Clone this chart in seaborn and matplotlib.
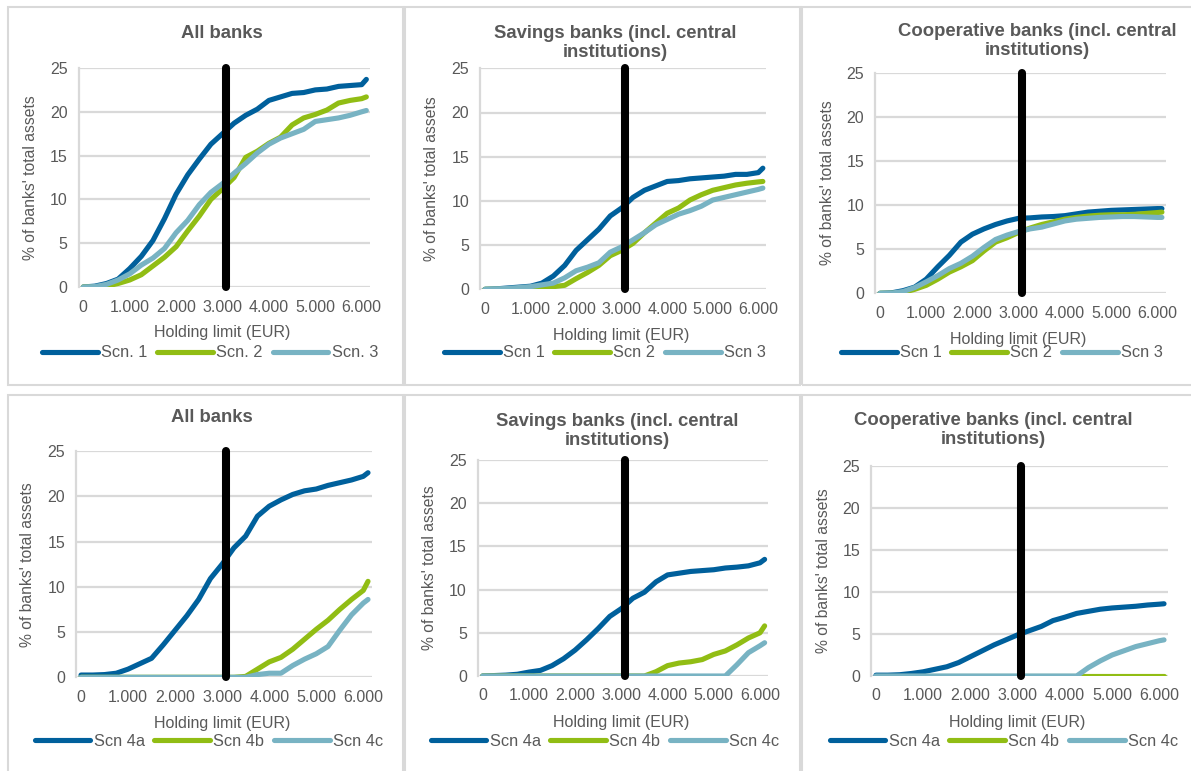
import matplotlib
matplotlib.use("Agg")
import matplotlib.pyplot as plt
import seaborn as sns
import pandas as pd
from matplotlib.patches import Rectangle

sns.set_style("white")
plt.rcParams['font.family'] = ['Liberation Sans', 'DejaVu Sans']

# holding limit (EUR)
limits = [0, 250, 500, 750, 1000, 1250, 1500, 1750, 2000, 2250, 2500, 2750, 3000,
          3250, 3500, 3750, 4000, 4250, 4500, 4750, 5000, 5250, 5500, 5750, 6000, 6100]

# top row: scenarios 1-3
all_scn1 = [0, 0.1, 0.4, 0.9, 2.1, 3.5, 5.3, 7.8, 10.6, 12.8, 14.6, 16.3, 17.5,
            18.7, 19.6, 20.3, 21.3, 21.7, 22.1, 22.2, 22.5, 22.6, 22.9, 23.0, 23.1, 23.7]
all_scn2 = [0, 0, 0.1, 0.4, 0.8, 1.4, 2.4, 3.4, 4.6, 6.4, 8.1, 10.0, 11.2,
            12.5, 14.8, 15.5, 16.4, 17.1, 18.5, 19.3, 19.7, 20.2, 21.0, 21.3, 21.5, 21.7]
all_scn3 = [0, 0.05, 0.3, 0.8, 1.5, 2.5, 3.3, 4.4, 6.2, 7.6, 9.4, 10.8, 11.8,
            13.0, 14.1, 15.3, 16.3, 17.0, 17.5, 18.0, 18.9, 19.1, 19.3, 19.6, 20.0, 20.15]

sav_scn1 = [0, 0.05, 0.15, 0.25, 0.35, 0.7, 1.5, 2.7, 4.4, 5.6, 6.8, 8.3, 9.2,
            10.4, 11.2, 11.7, 12.2, 12.3, 12.5, 12.6, 12.7, 12.8, 13.0, 13.0, 13.2, 13.7]
sav_scn2 = [0, 0, 0.02, 0.05, 0.1, 0.2, 0.3, 0.45, 1.2, 1.9, 2.7, 3.8, 4.4,
            5.2, 6.4, 7.5, 8.6, 9.2, 10.1, 10.7, 11.2, 11.5, 11.8, 12.0, 12.15, 12.2]
sav_scn3 = [0, 0.05, 0.1, 0.2, 0.3, 0.5, 0.7, 1.3, 2.1, 2.5, 3.0, 4.2, 4.8,
            5.6, 6.4, 7.3, 7.9, 8.5, 8.9, 9.4, 10.1, 10.4, 10.7, 11.0, 11.3, 11.45]

coop_scn1 = [0, 0.05, 0.3, 0.7, 1.6, 3.0, 4.3, 5.8, 6.7, 7.3, 7.8, 8.2, 8.5,
             8.55, 8.65, 8.7, 8.8, 9.0, 9.2, 9.3, 9.4, 9.45, 9.5, 9.55, 9.6, 9.6]
coop_scn2 = [0, 0, 0.1, 0.45, 0.9, 1.6, 2.4, 3.0, 3.7, 4.8, 5.8, 6.3, 6.9,
             7.4, 7.8, 8.1, 8.4, 8.6, 8.75, 8.85, 8.9, 8.9, 8.95, 9.05, 9.15, 9.2]
coop_scn3 = [0, 0.02, 0.2, 0.65, 1.3, 2.0, 2.8, 3.4, 4.2, 5.2, 6.1, 6.6, 7.0,
             7.3, 7.5, 7.85, 8.2, 8.4, 8.5, 8.6, 8.65, 8.7, 8.7, 8.65, 8.6, 8.6]

# bottom row: scenarios 4a-4c
all_scn4a = [0.25, 0.25, 0.3, 0.45, 0.9, 1.5, 2.1, 3.6, 5.2, 6.8, 8.6, 10.9, 12.5,
             14.3, 15.6, 17.8, 18.9, 19.6, 20.2, 20.6, 20.8, 21.2, 21.5, 21.8, 22.2, 22.6]
all_scn4b = [0, 0, 0, 0, 0, 0, 0, 0, 0, 0, 0, 0, 0,
             0, 0.1, 0.9, 1.7, 2.2, 3.1, 4.2, 5.3, 6.3, 7.5, 8.6, 9.6, 10.6]
all_scn4c = [0, 0, 0, 0, 0, 0, 0, 0, 0, 0, 0, 0, 0,
             0, 0, 0.3, 0.45, 0.45, 1.3, 2.0, 2.6, 3.4, 5.2, 6.9, 8.2, 8.6]

sav_scn4a = [0, 0.05, 0.1, 0.2, 0.45, 0.65, 1.2, 2.0, 3.0, 4.2, 5.5, 6.9, 7.8,
             9.0, 9.7, 10.9, 11.7, 11.9, 12.1, 12.2, 12.3, 12.5, 12.6, 12.75, 13.1, 13.5]
sav_scn4b = [0, 0, 0, 0, 0, 0, 0, 0, 0, 0, 0, 0, 0,
             0, 0, 0.5, 1.2, 1.5, 1.65, 1.9, 2.5, 2.9, 3.6, 4.4, 5.0, 5.8]
sav_scn4c = [0, 0, 0, 0, 0, 0, 0, 0, 0, 0, 0, 0, 0,
             0, 0, 0, 0, 0, 0, 0, 0, 0, 1.3, 2.7, 3.5, 3.85]

coop_scn4a = [0.1, 0.1, 0.15, 0.3, 0.5, 0.8, 1.1, 1.6, 2.3, 3.0, 3.7, 4.3, 4.9,
              5.4, 5.9, 6.6, 7.0, 7.45, 7.7, 7.95, 8.1, 8.2, 8.3, 8.45, 8.55, 8.6]
coop_scn4b = [0] * 26
coop_scn4c = [0, 0, 0, 0, 0, 0, 0, 0, 0, 0, 0, 0, 0,
              0, 0, 0, 0, 0, 1.0, 1.8, 2.5, 3.0, 3.5, 3.85, 4.2, 4.3]

x_ticks = [0, 1000, 2000, 3000, 4000, 5000, 6000]
x_ticklabels = ["0", "1.000", "2.000", "3.000", "4.000", "5.000", "6.000"]
y_ticks = [0, 5, 10, 15, 20, 25]

colors = ["#00609C", "#91BD14", "#78B3C3"]
grey = "#595959"
grid_c = "#D9D9D9"

W, H = 1191, 771

# each panel: title, series, labels, pixel geometry (x of 0, x of 6000, y of 25, y of 0),
# title centre, ylabel x, legend centre
panels = [
    dict(title="All banks", series=[all_scn1, all_scn2, all_scn3],
         labels=["Scn. 1", "Scn. 2", "Scn. 3"],
         geo=(83.3, 361.7, 68, 287), tpos=(222, 33), ylx=31, leg=(210, 353)),
    dict(title="Savings banks (incl. central\ninstitutions)", series=[sav_scn1, sav_scn2, sav_scn3],
         labels=["Scn 1", "Scn 2", "Scn 3"],
         geo=(485, 758.3, 68.3, 289.3), tpos=(615, 43), ylx=432, leg=(605, 353)),
    dict(title="Cooperative banks (incl. central\ninstitutions)", series=[coop_scn1, coop_scn2, coop_scn3],
         labels=["Scn 1", "Scn 2", "Scn 3"],
         geo=(880, 1157.3, 72.7, 293.3), tpos=(1037, 41), ylx=828, leg=(1002, 353)),
    dict(title="All banks", series=[all_scn4a, all_scn4b, all_scn4c],
         labels=["Scn 4a", "Scn 4b", "Scn 4c"],
         geo=(81, 363.3, 451, 677.3), tpos=(212, 417), ylx=28, leg=(209, 741)),
    dict(title="Savings banks (incl. central\ninstitutions)", series=[sav_scn4a, sav_scn4b, sav_scn4c],
         labels=["Scn 4a", "Scn 4b", "Scn 4c"],
         geo=(482.7, 760, 460, 676), tpos=(617, 431), ylx=429, leg=(605, 741)),
    dict(title="Cooperative banks (incl. central\ninstitutions)", series=[coop_scn4a, coop_scn4b, coop_scn4c],
         labels=["Scn 4a", "Scn 4b", "Scn 4c"],
         geo=(876, 1159.3, 466, 676), tpos=(993, 430), ylx=823, leg=(1004, 741)),
]

fig = plt.figure(figsize=(W / 100, H / 100), dpi=100)

# panel frames
for (x0, y0, x1, y1) in [(8, 7, 403, 385), (405, 7, 800, 385), (802, 7, 1195, 385),
                         (8, 395, 403, 775), (405, 395, 800, 775), (802, 395, 1195, 775)]:
    fig.patches.append(Rectangle((x0 / W, 1 - y1 / H), (x1 - x0) / W, (y1 - y0) / H,
                                 transform=fig.transFigure, fill=False,
                                 edgecolor="#D9D9D9", linewidth=1.5))

xmin, xmax = -100, 6180
for p in panels:
    p0, p6, ytop, ybot = p["geo"]
    k = (p6 - p0) / 6000
    left = p0 + xmin * k
    right = p0 + xmax * k
    ax = fig.add_axes([left / W, 1 - ybot / H, (right - left) / W, (ybot - ytop) / H])
    for vals, c, lab in zip(p["series"], colors, p["labels"]):
        sns.lineplot(x=limits, y=vals, ax=ax, color=c, linewidth=3.7, label=lab,
                     solid_capstyle="round", solid_joinstyle="round", zorder=3)
    ax.plot([3080, 3080], [0, 25], color="black", linewidth=5.8,
            solid_capstyle="round", zorder=5, clip_on=False)
    ax.set_xlim(xmin, xmax)
    ax.set_ylim(0, 25)
    ax.set_xticks(x_ticks)
    ax.set_xticklabels(x_ticklabels)
    ax.set_yticks(y_ticks)
    ax.yaxis.grid(True, color=grid_c, linewidth=1.6, zorder=0)
    ax.set_axisbelow(True)
    for s in ["top", "right", "bottom"]:
        ax.spines[s].set_visible(False)
    ax.spines["left"].set_color(grid_c)
    ax.spines["left"].set_linewidth(1.6)
    ax.tick_params(axis="x", colors=grey, labelsize=11.5, length=4, width=1.2,
                   color=grid_c, pad=5)
    ax.tick_params(axis="y", colors=grey, labelsize=11.5, length=0, pad=8)
    ax.set_xlabel("")
    ax.set_ylabel("")
    leg = ax.legend(loc="center", bbox_to_anchor=(p["leg"][0] / W, 1 - p["leg"][1] / H),
                    bbox_transform=fig.transFigure, ncol=3, frameon=False,
                    handlelength=3.4, handletextpad=0.2, columnspacing=0.6,
                    fontsize=11.8, labelcolor=grey, borderpad=0)
    fig.text(p["tpos"][0] / W, 1 - p["tpos"][1] / H, p["title"], ha="center", va="center",
             fontsize=13.3, fontweight="bold", color=grey, linespacing=1.15)
    fig.text(p["ylx"] / W, 1 - (ytop + ybot) / 2 / H, "% of banks' total assets",
             rotation=90, ha="center", va="center", fontsize=11.3, color=grey)
    fig.text((p0 + p6) / 2 / W, 1 - (ybot + 46) / H, "Holding limit (EUR)",
             ha="center", va="center", fontsize=11.5, color=grey)

fig.savefig("out.png", dpi=100)
